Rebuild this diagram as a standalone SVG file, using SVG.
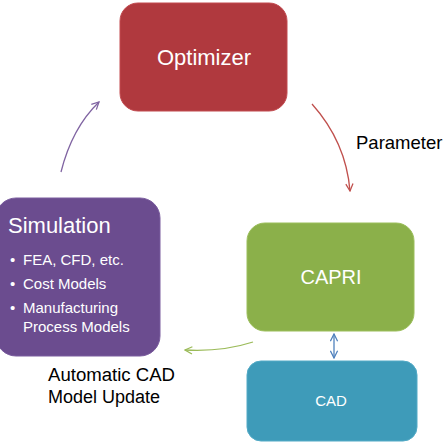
<svg xmlns="http://www.w3.org/2000/svg" width="445" height="445" viewBox="0 0 445 445">
<defs>
<style>
.node text{font-family:"Liberation Sans",Arial,sans-serif;fill:#ffffff}
.lbl{font-family:"Liberation Sans",Arial,sans-serif;fill:#000000}
.conn path{fill:none;stroke-width:1.3}
</style>
<marker id="ar" viewBox="0 0 10 10" refX="9" refY="5" markerWidth="9" markerHeight="9" markerUnits="userSpaceOnUse" orient="auto-start-reverse"><path d="M1,1 L9,5 L1,9" fill="none" stroke="context-stroke" stroke-width="1.4"/></marker>
<marker id="arR" viewBox="0 0 10 10" refX="9" refY="5" markerWidth="9" markerHeight="9" markerUnits="userSpaceOnUse" orient="auto"><path d="M1,1 L9,5 L1,9" fill="none" stroke="#C0504D" stroke-width="1.4"/></marker>
<marker id="arP" viewBox="0 0 10 10" refX="9" refY="5" markerWidth="9" markerHeight="9" markerUnits="userSpaceOnUse" orient="auto"><path d="M1,1 L9,5 L1,9" fill="none" stroke="#8064A2" stroke-width="1.4"/></marker>
<marker id="arG" viewBox="0 0 10 10" refX="9" refY="5" markerWidth="9" markerHeight="9" markerUnits="userSpaceOnUse" orient="auto"><path d="M1,1 L9,5 L1,9" fill="none" stroke="#9BBB59" stroke-width="1.4"/></marker>
<marker id="arB" viewBox="0 0 10 10" refX="9" refY="5" markerWidth="9" markerHeight="9" markerUnits="userSpaceOnUse" orient="auto-start-reverse"><path d="M1,1 L9,5 L1,9" fill="none" stroke="#4F81BD" stroke-width="1.4"/></marker>
</defs>
<rect width="445" height="445" fill="#ffffff"/>
<g id="optimizer" class="node">
<rect x="120" y="3" width="167" height="108" rx="18" fill="#B0393E" stroke="#C24A4F" stroke-width="1"/>
<text x="204" y="65" font-size="22" text-anchor="middle">Optimizer</text>
</g>
<g id="simulation" class="node">
<rect x="-4" y="198" width="164" height="158" rx="20" fill="#6B4C8F" stroke="#7A5C9E" stroke-width="1"/>
<text x="8" y="233" font-size="22">Simulation</text>
<text font-size="15">
<tspan x="10" y="265">•</tspan><tspan x="23" y="265">FEA, CFD, etc.</tspan>
<tspan x="10" y="289">•</tspan><tspan x="23" y="289">Cost Models</tspan>
<tspan x="10" y="313">•</tspan><tspan x="23" y="313">Manufacturing</tspan>
<tspan x="23" y="332">Process Models</tspan>
</text>
</g>
<g id="capri" class="node">
<rect x="247" y="223" width="167" height="108" rx="18" fill="#8BB04A" stroke="#9BBE5A" stroke-width="1"/>
<text x="331" y="284" font-size="20" text-anchor="middle">CAPRI</text>
</g>
<g id="cad" class="node">
<rect x="247" y="361" width="170" height="80" rx="14" fill="#3E9BB9" stroke="#52AAC6" stroke-width="1"/>
<text x="331" y="406" font-size="15" text-anchor="middle">CAD</text>
</g>
<g id="connectors" class="conn">
<path d="M312,104 Q346,142 350,191" stroke="#C0504D" marker-end="url(#arR)"/>
<path d="M61,172 Q72,128 99,102" stroke="#8064A2" marker-end="url(#arP)"/>
<path d="M253,342 Q222,352 185,350" stroke="#9BBB59" marker-end="url(#arG)"/>
<path d="M334,334 L334,358" stroke="#4F81BD" marker-start="url(#arB)" marker-end="url(#arB)"/>
</g>
<g id="labels">
<text class="lbl" x="356" y="149" font-size="18.5">Parameter</text>
<text class="lbl" x="48" y="381" font-size="18" textLength="127" lengthAdjust="spacingAndGlyphs">Automatic CAD</text>
<text class="lbl" x="48" y="403" font-size="18">Model Update</text>
</g>
</svg>
